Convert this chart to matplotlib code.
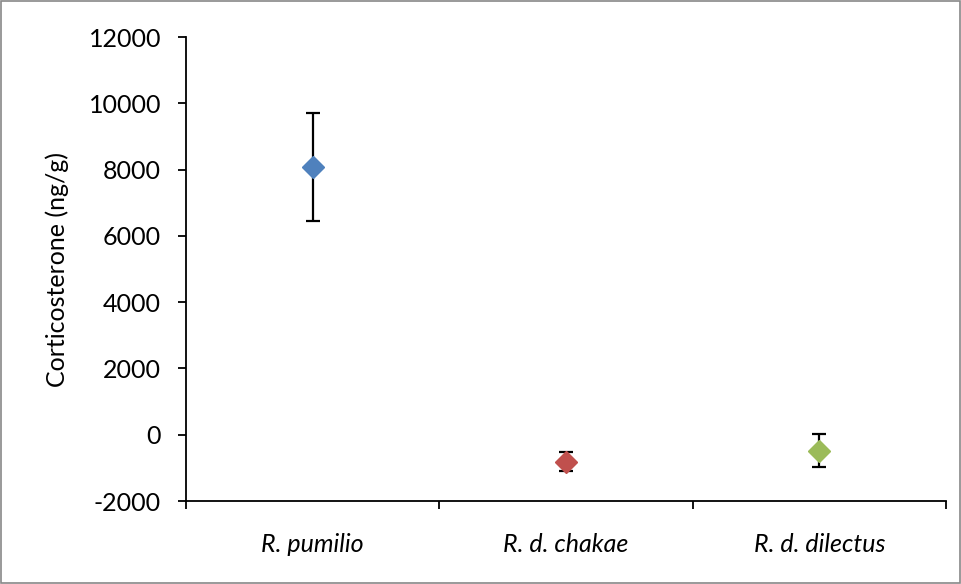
import matplotlib
matplotlib.use("Agg")
import matplotlib.pyplot as plt
from matplotlib.patches import Rectangle

species = ["R. pumilio", "R. d. chakae", "R. d. dilectus"]
means = [8070, -810, -480]
errors = [1630, 280, 495]
colors = ["#4F81BD", "#C0504D", "#9BBB59"]
yticks = [-2000, 0, 2000, 4000, 6000, 8000, 10000, 12000]

plt.rcParams['font.family'] = ['Lato', 'DejaVu Sans']

fig = plt.figure(figsize=(9.62, 5.84), dpi=100)
ax = fig.add_axes([0.1933, 0.1421, 0.7901, 0.7945])

xs = [1, 2, 3]
for x, m, e, c in zip(xs, means, errors, colors):
    ax.errorbar(x, m, yerr=e, fmt='none', ecolor='black', elinewidth=1.6,
                capsize=5, capthick=1.6, zorder=2)
    ax.plot(x, m, marker='D', markersize=11, color=c, markeredgecolor=c,
            linestyle='none', zorder=3)

ax.set_xlim(0.5, 3.5)
ax.set_ylim(-2000, 12000)
ax.set_yticks(yticks)
ax.set_yticklabels([str(v) for v in yticks], fontsize=18)
ax.set_xticks([0.5, 1.5, 2.5, 3.5])
ax.set_xticklabels([])
ax.set_xticks(xs, minor=True)
ax.set_xticklabels(species, minor=True, fontsize=18, style='italic')
ax.tick_params(axis='x', which='minor', length=0, pad=23)
ax.tick_params(axis='x', which='major', length=6, width=1.3, direction='out')
ax.tick_params(axis='y', length=6, width=1.3, direction='out', pad=12)
ax.spines['top'].set_visible(False)
ax.spines['right'].set_visible(False)
ax.spines['left'].set_linewidth(1.3)
ax.spines['bottom'].set_linewidth(1.3)
ax.set_ylabel("Corticosterone (ng/g)", fontsize=18, labelpad=14)

fig.patches.append(Rectangle((0.001, 0.001), 0.997, 0.997, transform=fig.transFigure,
                             fill=False, edgecolor='#888888', linewidth=1.2))

fig.savefig("out.png", dpi=100)
